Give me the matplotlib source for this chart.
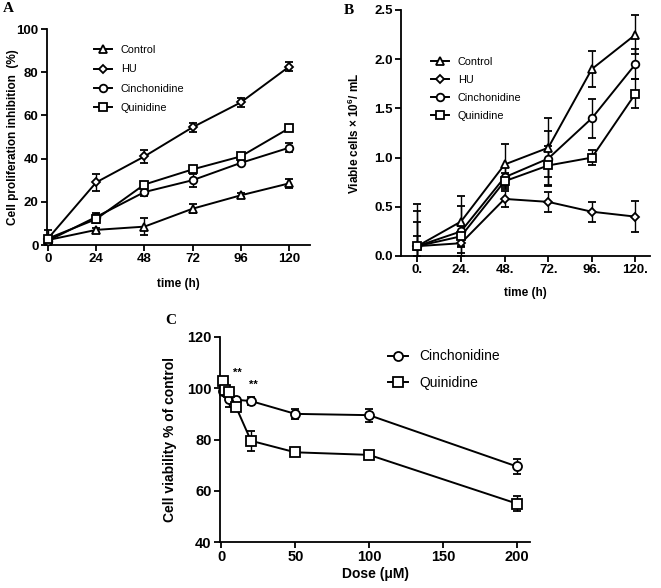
import matplotlib
matplotlib.use("Agg")
import matplotlib.pyplot as plt

plt.rcParams['font.family'] = ['Liberation Sans', 'DejaVu Sans']
plt.rcParams['mathtext.fontset'] = 'custom'
plt.rcParams['mathtext.rm'] = 'Liberation Sans'
plt.rcParams['mathtext.bf'] = 'Liberation Sans:bold'

# ---- Panel A data ----
time_h = [0, 24, 48, 72, 96, 120]
a_control = [2.3, 7, 8.5, 16.8, 23, 28.5]
a_control_err = [4.5, 1.0, 4.0, 2.0, 1.0, 2.0]
a_hu = [3, 29, 41, 54.5, 66, 82.5]
a_hu_err = [1.0, 4.0, 3.0, 2.0, 2.0, 2.0]
a_cinch = [2, 13, 24.5, 30, 38, 45]
a_cinch_err = [1.0, 2.0, 2.0, 3.0, 1.0, 2.0]
a_quin = [3, 12, 28, 35, 41, 54]
a_quin_err = [1.0, 2.0, 1.0, 1.0, 1.0, 1.0]
a_xticklabels = ['0', '24', '48', '72', '96', '120']

# ---- Panel B data ----
b_control = [0.1, 0.35, 0.93, 1.1, 1.9, 2.25]
b_control_err = [0.43, 0.26, 0.21, 0.30, 0.18, 0.20]
b_hu = [0.1, 0.13, 0.58, 0.55, 0.45, 0.40]
b_hu_err = [0.25, 0.10, 0.08, 0.10, 0.10, 0.16]
b_cinch = [0.1, 0.25, 0.80, 0.99, 1.40, 1.95]
b_cinch_err = [0.36, 0.26, 0.10, 0.28, 0.20, 0.15]
b_quin = [0.1, 0.20, 0.76, 0.92, 1.00, 1.65]
b_quin_err = [0.10, 0.10, 0.08, 0.20, 0.08, 0.15]
b_xticklabels = ['0.', '24.', '48.', '72.', '96.', '120.']

# ---- Panel C data ----
dose = [1, 2.5, 5, 10, 20, 50, 100, 200]
c_cinch = [99, 98.5, 96, 95.5, 95, 90, 89.5, 69.5]
c_cinch_err = [1.0, 1.0, 3.5, 1.0, 1.5, 2.0, 2.5, 3.0]
c_quin = [103, 99.5, 98.5, 92.5, 79.5, 75, 74, 55]
c_quin_err = [1.0, 1.0, 1.0, 1.0, 4.0, 1.0, 1.0, 3.0]
stars_x = [11, 21.5]
stars_y = [106, 101.3]

fig = plt.figure(figsize=(6.61, 5.88), dpi=100)

def style(ax, fs):
    for s in ['top', 'right']:
        ax.spines[s].set_visible(False)
    for s in ['left', 'bottom']:
        ax.spines[s].set_linewidth(1.3)
    ax.tick_params(direction='out', length=4, width=1.3, labelsize=fs, pad=2)
    for lab in ax.get_xticklabels() + ax.get_yticklabels():
        lab.set_fontweight('bold')

def series(ax, x, y, e, marker, label, ms=5.5):
    ymin = ax.get_ylim()[0]
    lower = [min(ei, yi - ymin) for yi, ei in zip(y, e)]
    ax.errorbar(x, y, yerr=[lower, e], color='black', lw=1.4, marker=marker, ms=ms,
                mfc='white', mec='black', mew=1.3, capsize=3, elinewidth=1.0,
                capthick=1.0, label=label, clip_on=False, zorder=3)

# Panel A
axA = fig.add_axes([47/661, 1-245/588, 263/661, 216/588])
axA.set_xlim(-0.5, 130.5)
axA.set_ylim(0, 100)
series(axA, time_h, a_control, a_control_err, '^', 'Control')
series(axA, time_h, a_hu, a_hu_err, 'D', 'HU', ms=4.5)
series(axA, time_h, a_cinch, a_cinch_err, 'o', 'Cinchonidine')
series(axA, time_h, a_quin, a_quin_err, 's', 'Quinidine')
axA.set_xticks(time_h)
axA.set_xticklabels(a_xticklabels)
axA.set_yticks([0, 20, 40, 60, 80, 100])
axA.set_xlabel('time (h)', fontsize=8.5, fontweight='bold', labelpad=9)
axA.set_ylabel('Cell proliferation inhibition  (%)', fontsize=8.5, fontweight='bold')
axA.yaxis.set_label_coords(-0.108, 0.5)
style(axA, 9.5)
hA, lA = axA.get_legend_handles_labels()
hA = [h[0] for h in hA]
axA.legend(hA, lA, loc='upper left', bbox_to_anchor=(0.14, 0.97), frameon=False,
           fontsize=7.8, handlelength=1.7, handletextpad=0.8, labelspacing=0.85)

# Panel B
axB = fig.add_axes([401/661, 1-256/588, 249/661, 246/588])
axB.set_xlim(-9, 128)
axB.set_ylim(0, 2.5)
series(axB, time_h, b_control, b_control_err, '^', 'Control')
series(axB, time_h, b_hu, b_hu_err, 'D', 'HU', ms=4.5)
series(axB, time_h, b_cinch, b_cinch_err, 'o', 'Cinchonidine')
series(axB, time_h, b_quin, b_quin_err, 's', 'Quinidine')
axB.set_xticks(time_h)
axB.set_xticklabels(b_xticklabels)
axB.set_yticks([0, 0.5, 1.0, 1.5, 2.0, 2.5])
axB.set_yticklabels(['0.0', '0.5', '1.0', '1.5', '2.0', '2.5'])
axB.set_xlabel('time (h)', fontsize=8.5, fontweight='bold', labelpad=8)
axB.set_ylabel(r'Viable cells × 10$^{\mathbf{6}}$/ mL', fontsize=8.5, fontweight='bold')
axB.yaxis.set_label_coords(-0.155, 0.5)
style(axB, 9.5)
hB, lB = axB.get_legend_handles_labels()
hB = [h[0] for h in hB]
axB.legend(hB, lB, loc='upper left', bbox_to_anchor=(0.08, 0.85), frameon=False,
           fontsize=7.8, handlelength=1.7, handletextpad=0.8, labelspacing=0.75)

# Panel C
axC = fig.add_axes([220/661, 1-542/588, 310/661, 205/588])
axC.set_xlim(-1, 209)
axC.set_ylim(40, 120)
series(axC, dose, c_cinch, c_cinch_err, 'o', 'Cinchonidine', ms=6.5)
series(axC, dose, c_quin, c_quin_err, 's', 'Quinidine', ms=6.5)
for sx, sy in zip(stars_x, stars_y):
    axC.text(sx, sy, '**', ha='center', va='center', fontsize=8, fontweight='bold')
axC.set_xticks([0, 50, 100, 150, 200])
axC.set_yticks([40, 60, 80, 100, 120])
axC.set_xlabel('Dose (μM)', fontsize=10, fontweight='bold', labelpad=2)
axC.set_ylabel('Cell viability % of control', fontsize=10, fontweight='bold')
axC.yaxis.set_label_coords(-0.14, 0.5)
style(axC, 10.5)
hC, lC = axC.get_legend_handles_labels()
hC = [h[0] for h in hC]
axC.legend(hC, lC, loc='upper left', bbox_to_anchor=(0.5, 1.0), frameon=False,
           fontsize=10, handlelength=1.5, handletextpad=0.8, labelspacing=0.9)

# Panel letters
fig.text(3/661, 1-9/588, 'A', fontsize=11, fontweight='bold', family='Liberation Serif', va='center')
fig.text(344/661, 1-10/588, 'B', fontsize=11, fontweight='bold', family='Liberation Serif', va='center')
fig.text(165/661, 1-321/588, 'C', fontsize=11, fontweight='bold', family='Liberation Serif', va='center')

fig.savefig('out.png', dpi=100)
